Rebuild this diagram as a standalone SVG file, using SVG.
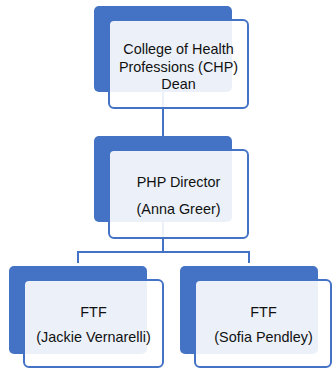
<svg xmlns="http://www.w3.org/2000/svg" width="333" height="371" viewBox="0 0 333 371">
<style>
.back{fill:#4472c4;}
.front{fill:#ffffff;fill-opacity:0.9;stroke:#4472c4;stroke-width:2;}
.conn{fill:none;stroke:#4472c4;stroke-width:2;}
text{font-family:"Liberation Sans",Arial,sans-serif;font-size:14.4px;fill:#111111;text-anchor:middle;}
</style>
<rect width="333" height="371" fill="#ffffff"/>
<g id="connectors">
<path class="conn" d="M163,92 V137"/>
<path class="conn" d="M163,222 V252 M78,263 V252 H249 V263"/>
</g>
<g id="node-dean">
<rect class="back" x="94" y="6" width="138" height="86" rx="5"/>
<rect class="front" x="109" y="20" width="139" height="88" rx="5"/>
<text x="178.5" y="54">College of Health</text>
<text x="178.5" y="72">Professions (CHP)</text>
<text x="178.5" y="89">Dean</text>
</g>
<g id="node-director">
<rect class="back" x="94" y="136" width="138" height="86" rx="5"/>
<rect class="front" x="109" y="150" width="139" height="88" rx="5"/>
<text x="178.5" y="187">PHP Director</text>
<text x="178.5" y="214">(Anna Greer)</text>
</g>
<g id="node-ftf-jackie">
<rect class="back" x="9" y="266" width="138" height="88" rx="5"/>
<rect class="front" x="24" y="280" width="139" height="87" rx="5"/>
<text x="93.5" y="317">FTF</text>
<text x="93.5" y="342">(Jackie Vernarelli)</text>
</g>
<g id="node-ftf-sofia">
<rect class="back" x="180" y="266" width="138" height="88" rx="5"/>
<rect class="front" x="195" y="280" width="136" height="87" rx="5"/>
<text x="263.5" y="317">FTF</text>
<text x="263.5" y="342">(Sofia Pendley)</text>
</g>
</svg>
